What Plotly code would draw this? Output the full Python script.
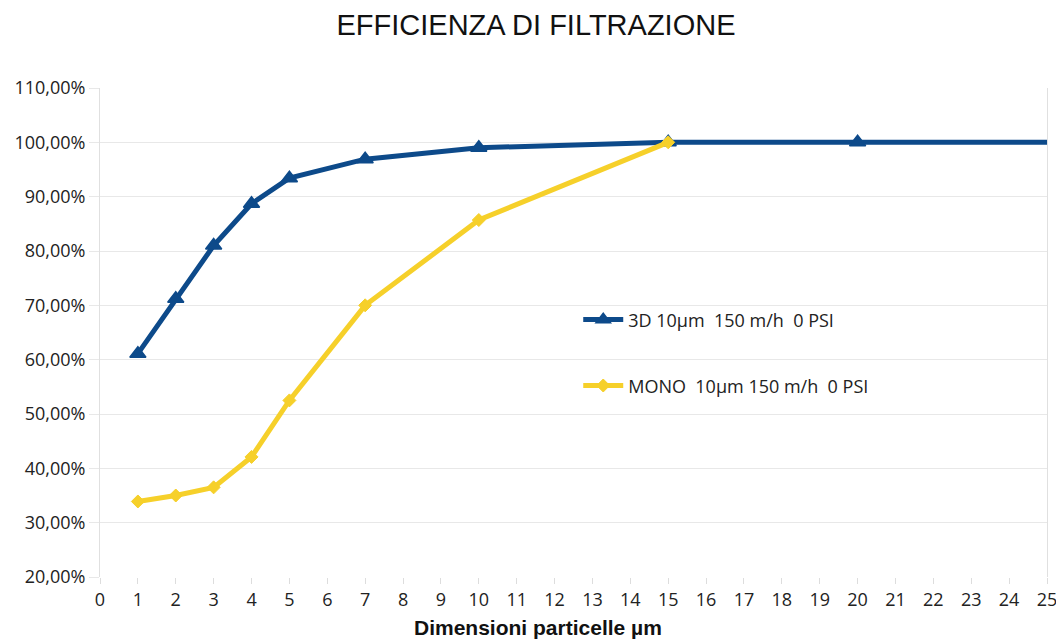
import plotly.graph_objects as go

x_3d = [1, 2, 3, 4, 5, 7, 10, 15, 20, 25]
y_3d = [61.1, 71.2, 81.0, 88.7, 93.4, 96.9, 99.0, 100.0, 100.0, 100.0]
x_mono = [1, 2, 3, 4, 5, 7, 10, 15]
y_mono = [33.9, 35.0, 36.5, 42.1, 52.5, 70.0, 85.7, 100.0]
y_ticks = [20, 30, 40, 50, 60, 70, 80, 90, 100, 110]
y_ticklabels = ["20,00%", "30,00%", "40,00%", "50,00%", "60,00%", "70,00%",
                "80,00%", "90,00%", "100,00%", "110,00%"]
x_ticks = list(range(0, 26))

blue = "#0d4a8a"
yellow = "#f6d02a"

fig = go.Figure()
fig.add_trace(go.Scatter(
    x=x_3d, y=y_3d, mode="lines+markers", name="3D 10µm  150 m/h  0 PSI",
    line=dict(color=blue, width=5),
    marker=dict(symbol="triangle-up", size=[14]*9 + [0], color=blue,
                line=dict(color=blue, width=1.5), opacity=1),
    legend="legend", showlegend=True,
))
fig.add_trace(go.Scatter(
    x=x_mono, y=y_mono, mode="lines+markers", name="MONO  10µm 150 m/h  0 PSI",
    line=dict(color=yellow, width=5),
    marker=dict(symbol="diamond", size=10, color=yellow, line=dict(color=yellow, width=1)),
    legend="legend2", showlegend=True,
))

legend_common = dict(bgcolor="rgba(0,0,0,0)", font=dict(family="Open Sans", size=18, color="#222"),
                     xanchor="left", yanchor="middle", itemwidth=40, visible=True)
fig.update_layout(
    width=1056, height=632, showlegend=True,
    paper_bgcolor="white", plot_bgcolor="white",
    margin=dict(l=92, r=17, t=80, b=63, autoexpand=False),
    title=dict(text="EFFICIENZA DI FILTRAZIONE", x=0.5, xanchor="center", y=0.973, yanchor="middle",
               font=dict(family="Arial", size=29, color="#111")),
    xaxis=dict(range=[0, 25], tickvals=x_ticks, ticktext=[str(v) for v in x_ticks],
               showgrid=False, showline=False, zeroline=False, automargin=False,
               ticks="outside", ticklen=6, tickcolor="#dddddd",
               tickfont=dict(family="Open Sans", size=18, color="#222")),
    yaxis=dict(range=[20, 110], tickvals=y_ticks, ticktext=y_ticklabels, automargin=False,
               showgrid=True, gridcolor="#e8e8e8", gridwidth=1, zeroline=False,
               showline=True, mirror=True, linecolor="#e0e0e0", linewidth=1,
               ticks="outside", ticklen=10, tickcolor="#e8e8e8",
               tickfont=dict(family="Open Sans", size=18, color="#222")),
    legend=dict(x=0.505, y=0.526, **legend_common),
    legend2=dict(x=0.505, y=0.391, **legend_common),
    annotations=[dict(text="<b>Dimensioni particelle µm</b>", xref="paper", yref="paper",
                      x=0.462, y=-0.104, xanchor="center", yanchor="middle", showarrow=False,
                      font=dict(family="Arial", size=21, color="#111"))],
)
fig.write_html("out.html")
